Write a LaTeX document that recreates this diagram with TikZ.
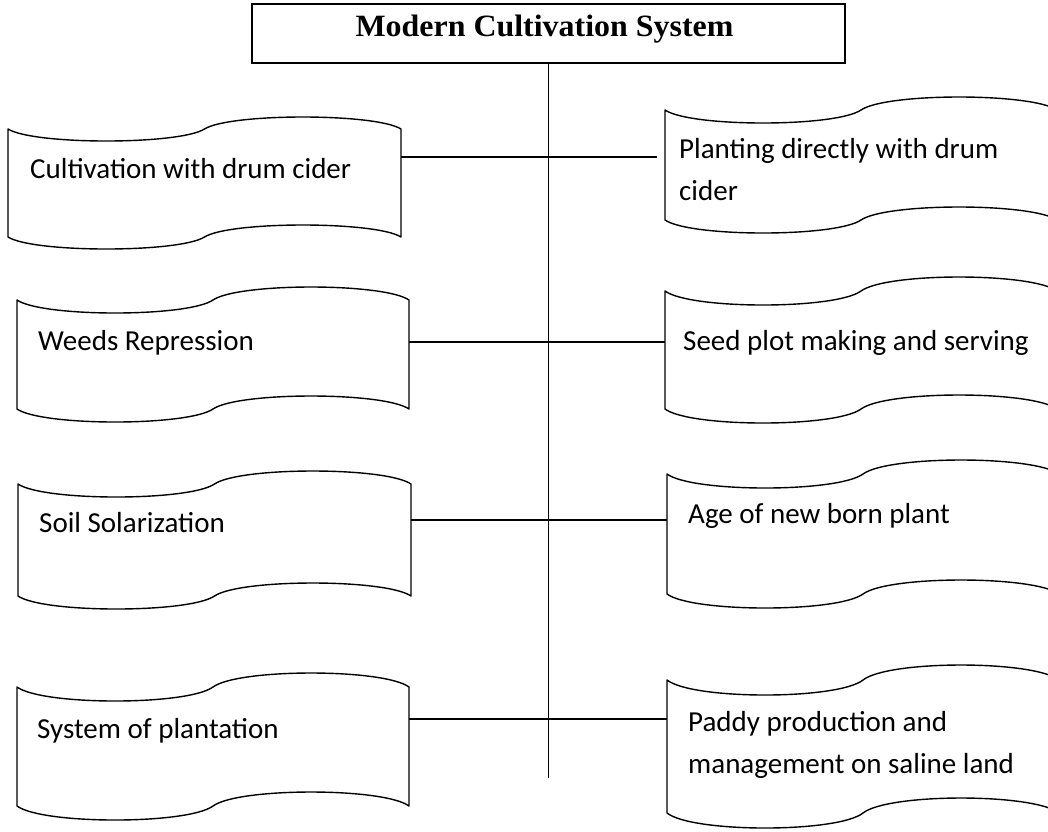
\documentclass[tikz,border=0pt]{standalone}
\usepackage{fontspec}
\setmainfont{Liberation Serif}
\newfontfamily\boxfont{Carlito}
\begin{document}
\begin{tikzpicture}[x=1pt,y=-1pt,
  tapenode/.style={draw=none,inner sep=0pt,outer sep=0pt},
  tapeline/.style={draw=black,line width=1.4pt,line join=round},
  conn/.style={draw=black,line width=1.3pt},
  boxtext/.style={font=\boxfont\fontsize{29}{42}\selectfont,inner sep=0pt,anchor=base west,align=left},
  titlebox/.style={draw=black,line width=1.4pt,inner sep=0pt,outer sep=0pt},
  titletext/.style={font=\bfseries\fontsize{31}{36}\selectfont,inner sep=0pt,anchor=base}]
\useasboundingbox (0,0) rectangle (1048,831);
\clip (0,0) rectangle (1048,831);
\newcommand\tape[6]{%
  \node[tapenode,minimum width={(#3-#2)*1pt},minimum height={(#5-#4)*1pt}] (#1) at ({(#2+#3)/2},{(#4+#5)/2}) {};
  \pgfmathsetmacro\hw{(#3-#2)/2}%
  \pgfmathsetmacro\ca{0.13*\hw}%
  \pgfmathsetmacro\cb{4*#6/3}%
  \draw[tapeline] (#1.north west)
      .. controls +(\ca,\cb) and +(-\ca,\cb) .. ++(\hw,0)
      .. controls +(\ca,-\cb) and +(-\ca,-\cb) .. ++(\hw,0)
    -- (#1.south east)
      .. controls +(-\ca,-\cb) and +(\ca,-\cb) .. ++(-\hw,0)
      .. controls +(-\ca,\cb) and +(\ca,\cb) .. ++(-\hw,0)
    -- cycle;
}
% title
\node[titlebox,minimum width=593pt,minimum height=59pt] (title) at (548.5,33.5) {};
\node[titletext] (titlet) at (544.5,36) {\scalebox{1.03}[1]{Modern Cultivation System}};
% boxes
\tape{l1}{8}{401}{129}{237}{12}
\tape{l2}{17}{409}{300}{409}{13}
\tape{l3}{18}{411}{484}{596}{13}
\tape{l4}{17}{409}{687}{806}{14}
\tape{r1}{665}{1057}{110}{220}{13}
\tape{r2}{665}{1057}{291}{409}{14}
\tape{r3}{667}{1059}{474}{594}{14}
\tape{r4}{667}{1059}{680}{813}{15}
% texts
\node[boxtext] (l1t) at (30,178) {Cultivation with drum cider};
\node[boxtext] (l2t) at (38,350) {Weeds Repression};
\node[boxtext] (l3t) at (39,532) {Soil Solarization};
\node[boxtext] (l4t) at (37,738) {System of plantation};
\node[boxtext] (r1t) at (679,200) {Planting directly with drum\\cider};
\node[boxtext] (r2t) at (683,350) {Seed plot making and serving};
\node[boxtext] (r3t) at (688,523) {Age of new born plant};
\node[boxtext] (r4t) at (688,773) {Paddy production and\\management on saline land};
% spine and connectors
\coordinate (spineend) at (548.5,778);
\draw[conn] (title.south) -- (spineend);
\coordinate (j1) at (548.5,157);
\coordinate (j2) at (548.5,342);
\coordinate (j3) at (548.5,520);
\coordinate (j4) at (548.5,719);
\draw[conn] (j1 -| l1.east) -- ([xshift=-8pt]j1 -| r1.west);
\draw[conn] (j2 -| l2.east) -- (j2 -| r2.west);
\draw[conn] (j3 -| l3.east) -- (j3 -| r3.west);
\draw[conn] (j4 -| l4.east) -- (j4 -| r4.west);
\end{tikzpicture}
\end{document}
